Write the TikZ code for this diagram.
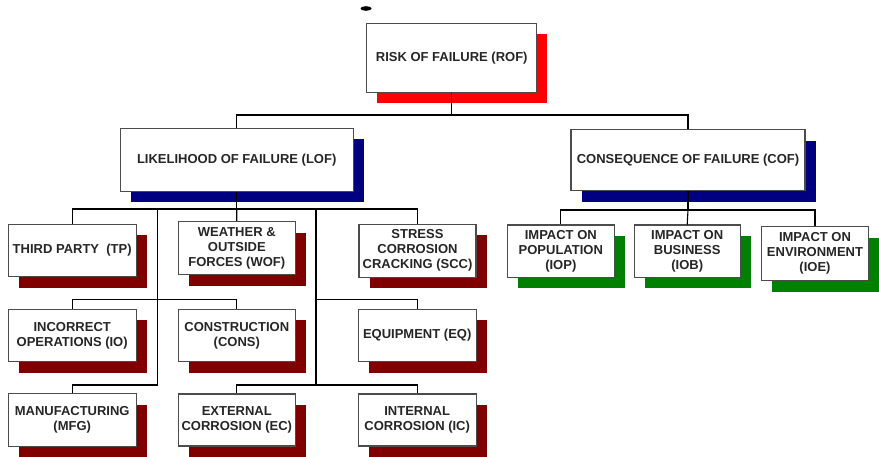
\documentclass[tikz,border=0pt]{standalone}
\usepackage{fontspec}
\setmainfont{Liberation Sans}
\usetikzlibrary{shadows}
\definecolor{sred}{RGB}{255,0,0}
\definecolor{snavy}{RGB}{0,0,128}
\definecolor{smaroon}{RGB}{128,0,0}
\definecolor{sgreen}{RGB}{0,128,0}
\begin{document}
\begin{tikzpicture}[x=1pt,y=-1pt,
 box/.style={draw=black!70, line width=1.1pt, fill=white, align=center,
   font=\bfseries\fontsize{13}{15}\selectfont, text=black!85, inner sep=0pt},
 shad/.style={general shadow={fill=#1, shadow xshift=10.5pt, shadow yshift=-11pt}},
 link/.style={draw=black, line width=1.1pt}]
\useasboundingbox (0,0) rectangle (879,457);
\fill[black] (366,8.5) ellipse (5.5 and 2.3);
% level 0
\node[box, shad=sred, minimum width=170pt, minimum height=69pt] (rof) at (451.7,58) {RISK OF FAILURE (ROF)};
% level 1
\node[box, shad=snavy, minimum width=233pt, minimum height=63pt] (lof) at (236.7,160) {LIKELIHOOD OF FAILURE (LOF)};
\node[box, shad=snavy, minimum width=234pt, minimum height=61pt] (cof) at (688,160.4) {CONSEQUENCE OF FAILURE (COF)};
% LOF children
\node[box, shad=smaroon, minimum width=128pt, minimum height=52.4pt] (tp) at (72.2,250.5) {THIRD PARTY\ \ (TP)};
\node[box, shad=smaroon, minimum width=117pt, minimum height=53.3pt] (wof) at (236.8,248.3) {WEATHER \&\\OUTSIDE\\FORCES (WOF)};
\node[box, shad=smaroon, minimum width=117pt, minimum height=53pt] (scc) at (417.5,250.8) {STRESS\\CORROSION\\CRACKING (SCC)};
\node[box, shad=smaroon, minimum width=128pt, minimum height=52.4pt] (io) at (72.2,335.5) {INCORRECT\\OPERATIONS (IO)};
\node[box, shad=smaroon, minimum width=117pt, minimum height=52.4pt] (cons) at (236.8,335.5) {CONSTRUCTION\\(CONS)};
\node[box, shad=smaroon, minimum width=117.7pt, minimum height=52.4pt] (eq) at (417.2,335.5) {EQUIPMENT (EQ)};
\node[box, shad=smaroon, minimum width=128pt, minimum height=53pt] (mfg) at (72.2,420) {MANUFACTURING\\(MFG)};
\node[box, shad=smaroon, minimum width=117pt, minimum height=52pt] (ec) at (236.8,420) {EXTERNAL\\CORROSION (EC)};
\node[box, shad=smaroon, minimum width=117.7pt, minimum height=52pt] (ic) at (417.2,420) {INTERNAL\\CORROSION (IC)};
% COF children
\node[box, shad=sgreen, minimum width=107pt, minimum height=52.3pt] (iop) at (560.8,251.2) {IMPACT ON\\POPULATION\\(IOP)};
\node[box, shad=sgreen, minimum width=105.7pt, minimum height=52.3pt] (iob) at (687.2,251.2) {IMPACT ON\\BUSINESS\\(IOB)};
\node[box, shad=sgreen, minimum width=106.7pt, minimum height=54pt] (ioe) at (815,253.7) {IMPACT ON\\ENVIRONMENT\\(IOE)};
% junction points
\coordinate (b1) at (451.7,115);
\coordinate (b2) at (236.7,209);
\coordinate (tl) at (157.7,209);
\coordinate (tlm) at (157.7,299.3);
\coordinate (tlb) at (157.7,385);
\coordinate (tr) at (316,209);
\coordinate (trm) at (316,299.3);
\coordinate (trb) at (316,385);
\coordinate (b3) at (688,210);
% connectors
\draw[link] (rof.south) -- (b1);
\draw[link] (lof.north) |- (b1) -| (cof.north);
\draw[link] (lof.south) -- (b2);
\draw[link] (tp.north) |- (b2) -| (scc.north);
\draw[link] (b2) -- (wof.north);
\draw[link] (tl) -- (tlb);
\draw[link] (io.north) |- (tlm) -| (cons.north);
\draw[link] (tlb) -| (mfg.north);
\draw[link] (tr) -- (trb);
\draw[link] (trm) -| (eq.north);
\draw[link] (ec.north) |- (trb) -| (ic.north);
\draw[link] (cof.south) -- (b3);
\draw[link] (iop.north) |- (b3) -| (ioe.north);
\draw[link] (b3) -- (iob.north);
\end{tikzpicture}
\end{document}
